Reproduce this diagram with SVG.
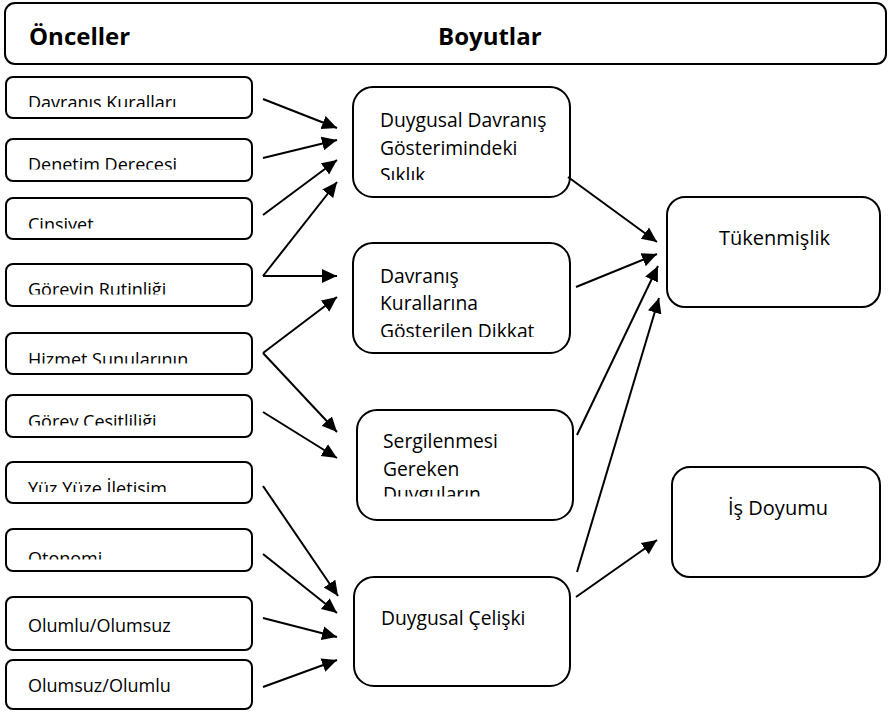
<svg xmlns="http://www.w3.org/2000/svg" width="888" height="712" viewBox="0 0 888 712">
  <style>
    .box { fill: #ffffff; stroke: #000000; stroke-width: 2; }
    .t { font-family: "Open Sans", "Noto Sans", sans-serif; fill: #000000; }
    .head { font-size: 24px; font-weight: bold; }
    .small { font-size: 18px; }
    .mid { font-size: 19.3px; }
    .big { font-size: 20px; }
    .conn path { fill: none; stroke: #000000; stroke-width: 2; marker-end: url(#ah); }
  </style>
  <defs>
    <marker id="ah" markerUnits="userSpaceOnUse" markerWidth="17" markerHeight="16" refX="15" refY="7.5" orient="auto">
      <path d="M0,0.5 L15,7.5 L0,14.5 z" fill="#000000"/>
    </marker>
    <!-- text areas of the antecedent boxes (lower part of the lines hidden) -->
    <clipPath id="c1"><rect x="8" y="79" width="242" height="28"/></clipPath>
    <clipPath id="c2"><rect x="8" y="141" width="242" height="28.5"/></clipPath>
    <clipPath id="c3"><rect x="8" y="200" width="242" height="28.5"/></clipPath>
    <clipPath id="c4"><rect x="8" y="266" width="242" height="28.5"/></clipPath>
    <clipPath id="c5"><rect x="8" y="335" width="242" height="28.5"/></clipPath>
    <clipPath id="c6"><rect x="8" y="397" width="242" height="28.5"/></clipPath>
    <clipPath id="c7"><rect x="8" y="464" width="242" height="28"/></clipPath>
    <clipPath id="c8"><rect x="8" y="531" width="242" height="28.5"/></clipPath>
    <clipPath id="cA"><rect x="360" y="95" width="200" height="85"/></clipPath>
    <clipPath id="cB"><rect x="360" y="251" width="200" height="86"/></clipPath>
    <clipPath id="cC"><rect x="364" y="418" width="200" height="78.5"/></clipPath>
  </defs>

  <g id="header">
    <rect class="box" x="5" y="3" width="881" height="61" rx="10"/>
    <text class="t head" x="29" y="45">Önceller</text>
    <text class="t head" x="438" y="45">Boyutlar</text>
  </g>

  <!-- antecedents -->
  <g id="davranis-kurallari">
    <rect class="box" x="6" y="77" width="246" height="41" rx="7"/>
    <text class="t small" x="28" y="109" clip-path="url(#c1)">Davranış Kuralları</text>
  </g>
  <g id="denetim-derecesi">
    <rect class="box" x="6" y="139" width="246" height="42" rx="7"/>
    <text class="t small" x="28" y="171" clip-path="url(#c2)">Denetim Derecesi</text>
  </g>
  <g id="cinsiyet">
    <rect class="box" x="6" y="198" width="246" height="41" rx="7"/>
    <text class="t small" x="28" y="230.5" clip-path="url(#c3)">Cinsiyet</text>
  </g>
  <g id="gorevin-rutinligi">
    <rect class="box" x="6" y="264" width="246" height="42" rx="7"/>
    <text class="t small" x="28" y="296" clip-path="url(#c4)">Görevin Rutinliği</text>
  </g>
  <g id="hizmet-sunularinin">
    <rect class="box" x="6" y="333" width="246" height="41" rx="7"/>
    <text class="t small" x="28" y="366" clip-path="url(#c5)">Hizmet Sunularının</text>
  </g>
  <g id="gorev-cesitliligi">
    <rect class="box" x="6" y="395" width="246" height="42" rx="7"/>
    <text class="t small" x="28" y="428" clip-path="url(#c6)">Görev Çeşitliliği</text>
  </g>
  <g id="yuz-yuze-iletisim">
    <rect class="box" x="6" y="462" width="246" height="41" rx="7"/>
    <text class="t small" x="28" y="494.5" clip-path="url(#c7)">Yüz Yüze İletişim</text>
  </g>
  <g id="otonomi">
    <rect class="box" x="6" y="529" width="246" height="42" rx="7"/>
    <text class="t small" x="28" y="565" clip-path="url(#c8)">Otonomi</text>
  </g>
  <g id="olumlu-olumsuz">
    <rect class="box" x="6" y="597" width="246" height="53" rx="7"/>
    <text class="t small" x="28" y="631.5">Olumlu/Olumsuz</text>
  </g>
  <g id="olumsuz-olumlu">
    <rect class="box" x="6" y="660" width="246" height="49" rx="7"/>
    <text class="t small" x="28" y="692">Olumsuz/Olumlu</text>
  </g>

  <!-- dimensions -->
  <g id="duygusal-davranis-siklik">
    <rect class="box" x="353" y="87" width="217" height="110" rx="20"/>
    <g clip-path="url(#cA)">
      <text class="t mid" x="380" y="127">Duygusal Davranış</text>
      <text class="t mid" x="380" y="154.5">Gösterimindeki</text>
      <text class="t mid" x="380" y="182">Sıklık</text>
    </g>
  </g>
  <g id="davranis-kurallarina-dikkat">
    <rect class="box" x="353" y="243" width="217" height="110" rx="20"/>
    <g clip-path="url(#cB)">
      <text class="t mid" x="380" y="282.5">Davranış</text>
      <text class="t mid" x="380" y="310">Kurallarına</text>
      <text class="t mid" x="380" y="338">Gösterilen Dikkat</text>
    </g>
  </g>
  <g id="sergilenmesi-gereken-duygular">
    <rect class="box" x="357" y="410" width="216" height="110" rx="20"/>
    <g clip-path="url(#cC)">
      <text class="t mid" x="383" y="447.5">Sergilenmesi</text>
      <text class="t mid" x="383" y="475.5">Gereken</text>
      <text class="t mid" x="383" y="501">Duyguların</text>
    </g>
  </g>
  <g id="duygusal-celiski">
    <rect class="box" x="354" y="577" width="216" height="109" rx="20"/>
    <text class="t mid" x="381" y="625">Duygusal Çelişki</text>
  </g>

  <!-- outcomes -->
  <g id="tukenmislik">
    <rect class="box" x="667" y="197" width="213" height="110" rx="18"/>
    <text class="t big" x="719" y="244.5">Tükenmişlik</text>
  </g>
  <g id="is-doyumu">
    <rect class="box" x="672" y="467" width="208" height="110" rx="18"/>
    <text class="t big" x="728" y="515">İş Doyumu</text>
  </g>

  <g id="connectors" class="conn">
    <path d="M263,99 L337,128"/>
    <path d="M263,158 L337,140"/>
    <path d="M263,215 L337,160"/>
    <path d="M263,276 L337,182"/>
    <path d="M263,276 L337,276"/>
    <path d="M263,353 L337,297"/>
    <path d="M263,353 L337,432"/>
    <path d="M263,412 L337,458"/>
    <path d="M263,486 L338,596"/>
    <path d="M263,554 L337,613"/>
    <path d="M263,618 L337,637"/>
    <path d="M263,687 L337,660"/>
    <path d="M568,177 L657,242"/>
    <path d="M576,287 L657,254"/>
    <path d="M577,435 L658,266"/>
    <path d="M577,572 L659,298"/>
    <path d="M576,597 L657,540"/>
  </g>
</svg>
